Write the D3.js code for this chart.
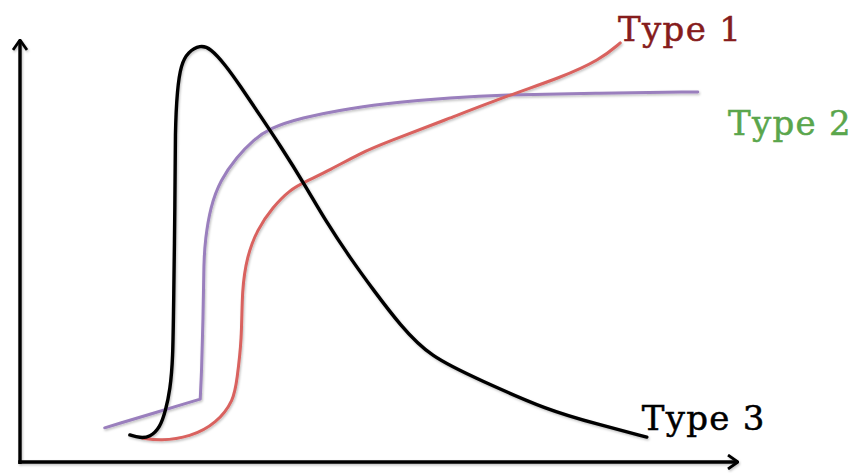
<!DOCTYPE html>
<html>
<head>
<meta charset="utf-8">
<script src="https://cdn.jsdelivr.net/npm/d3@7"></script>
<style>
    body { margin: 0; background: #fff; }
    svg { display: block; }
</style>
</head>
<body>
<script>
// curves, both axes on a 0..100 scale
const type1X = [17.0, 19.5, 23.7, 27.4, 29.8, 30.2, 30.9, 30.9, 31.6, 33.0, 35.2, 37.6, 39.7, 43.2, 47.4, 51.1, 59.9, 68.2, 75.2, 80.8, 83.6];
const type1Y = [5.7, 5.0, 5.9, 9.2, 14.7, 19.4, 28.9, 40.8, 48.6, 55.0, 60.4, 64.5, 66.4, 69.2, 73.2, 75.8, 81.5, 87.0, 91.0, 95.3, 99.3];

const type2X = [11.8, 25.1, 25.3, 25.5, 25.6, 25.8, 26.5, 27.9, 30.2, 32.5, 34.8, 39.0, 46.0, 52.9, 59.9, 66.9, 80.8, 94.4];
const type2Y = [8.1, 14.9, 21.8, 33.6, 47.9, 52.6, 60.4, 66.8, 72.3, 76.3, 79.1, 81.5, 83.9, 85.3, 86.3, 87.0, 87.4, 87.7];

const type3X = [15.3, 16.7, 18.1, 19.5, 20.3, 20.9, 21.3, 21.4, 21.6, 21.6, 21.9, 22.4, 23.4, 25.1, 26.5, 28.6, 30.6, 33.4, 36.2, 39.7, 42.5, 46.0, 49.2, 52.9, 57.1, 64.1, 73.4, 80.8, 87.3];
const type3Y = [6.4, 5.7, 5.9, 8.1, 12.3, 17.1, 24.2, 38.4, 62.1, 78.7, 88.2, 94.1, 97.2, 98.8, 98.1, 94.1, 89.3, 82.2, 75.1, 65.6, 57.3, 48.3, 40.8, 32.5, 24.9, 19.4, 12.3, 8.8, 5.9];

// index of a sharp corner in each curve (-1 = none)
const corners = [-1, 1, -1];

const seriesNames = ["Type 1", "Type 2", "Type 3"];
const lineColors = ["#d9625f", "#9a7fbd", "#000000"];
const labelColors = ["#861c1c", "#5aa64c", "#000000"];
// where each label sits, in the same 0..100 units
const labelX = [83.3, 98.6, 86.6];
const labelY = [99.8, 77.5, 7.6];

const svgWidth = 854;
const svgHeight = 473;
const plot = {left: 20, right: 738, top: 40, bottom: 462};

main();

function main() {
    const svg = d3.select("body")
        .append("svg")
        .attr("width", svgWidth)
        .attr("height", svgHeight);

    const x = d3.scaleLinear().domain([0, 100]).range([plot.left, plot.right]);
    const y = d3.scaleLinear().domain([0, 100]).range([plot.bottom, plot.top]);

    const defs = svg.append("defs");
    defs.append("marker")
        .attr("id", "arrow")
        .attr("viewBox", "0 0 12 16")
        .attr("refX", 11)
        .attr("refY", 8)
        .attr("markerWidth", 12)
        .attr("markerHeight", 16)
        .attr("markerUnits", "userSpaceOnUse")
        .attr("orient", "auto")
        .append("path")
        .attr("d", "M1,1 L11,8 L1,15")
        .attr("fill", "none")
        .attr("stroke", "#000")
        .attr("stroke-width", 2.8)
        .attr("stroke-linejoin", "miter");

    const shadow = defs.append("filter")
        .attr("id", "shadow")
        .attr("x", "-5%").attr("y", "-5%")
        .attr("width", "110%").attr("height", "110%");
    shadow.append("feDropShadow")
        .attr("dx", 1).attr("dy", 1.5)
        .attr("stdDeviation", 1.2)
        .attr("flood-color", "#000")
        .attr("flood-opacity", 0.25);

    // axes
    const axes = svg.append("g").attr("filter", "url(#shadow)");
    axes.append("line")
        .attr("x1", x(0)).attr("y1", y(0) + 2)
        .attr("x2", x(0)).attr("y2", y(100))
        .attr("stroke", "#000")
        .attr("stroke-width", 3.4)
        .attr("marker-end", "url(#arrow)");
    axes.append("line")
        .attr("x1", x(0) - 1.7).attr("y1", y(0))
        .attr("x2", x(100)).attr("y2", y(0))
        .attr("stroke", "#000")
        .attr("stroke-width", 3.4)
        .attr("marker-end", "url(#arrow)");

    const allX = [type1X, type2X, type3X];
    const allY = [type1Y, type2Y, type3Y];

    // a B-spline passes through a point given three times, which keeps the corner sharp
    const points = i => {
        const pts = [];
        allX[i].forEach((v, j) => {
            const p = [v, allY[i][j]];
            pts.push(p);
            if (j === corners[i]) pts.push(p, p);
        });
        return pts;
    };

    const line = d3.line()
        .x(d => x(d[0]))
        .y(d => y(d[1]))
        .curve(d3.curveBasis);

    // draw purple first, then red, then black on top
    const order = [1, 0, 2];
    svg.append("g")
        .attr("filter", "url(#shadow)")
        .selectAll("path")
        .data(order)
        .join("path")
        .attr("d", i => line(points(i)))
        .attr("fill", "none")
        .attr("stroke", i => lineColors[i])
        .attr("stroke-width", i => i === 2 ? 3.4 : 3)
        .attr("stroke-linecap", "round")
        .attr("stroke-linejoin", "round");

    svg.append("g")
        .selectAll("text")
        .data(seriesNames)
        .join("text")
        .text(d => d)
        .attr("x", (d, i) => x(labelX[i]))
        .attr("y", (d, i) => y(labelY[i]))
        .attr("fill", (d, i) => labelColors[i])
        .attr("stroke", (d, i) => labelColors[i])
        .attr("stroke-width", 0.5)
        .style("font-family", "'DejaVu Serif', serif")
        .style("font-size", "34px")
        .style("letter-spacing", "1.3px");
}
</script>
</body>
</html>
